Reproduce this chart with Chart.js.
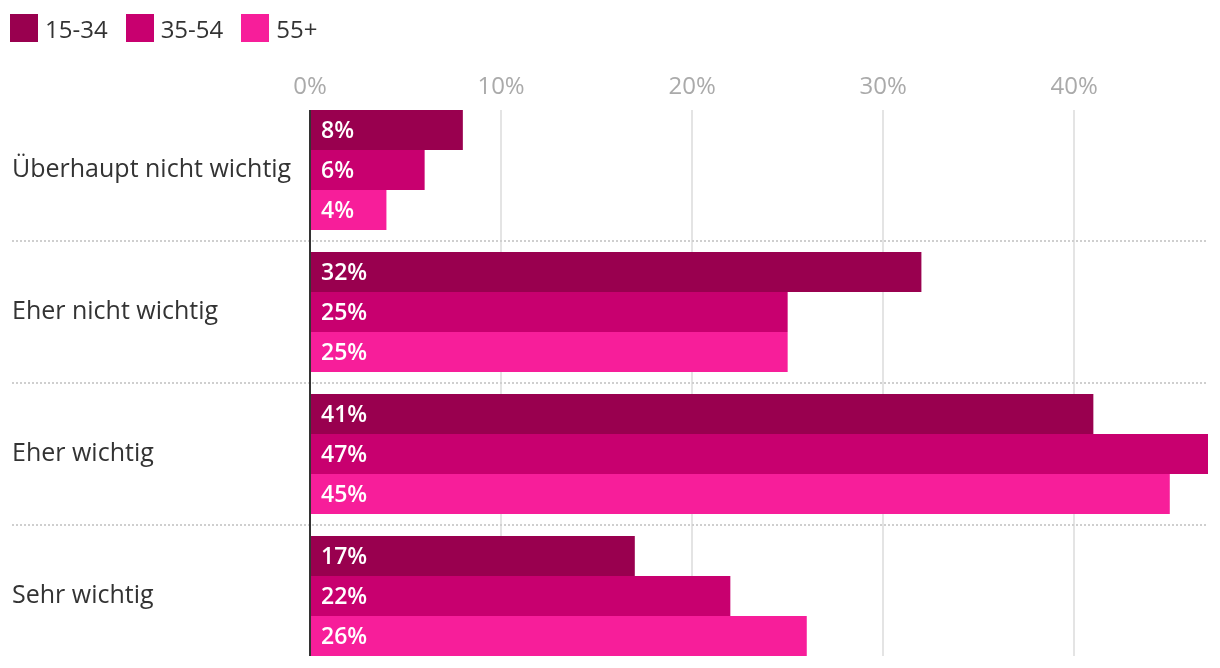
<!DOCTYPE html>
<html>
<head>
<meta charset="utf-8">
<script src="https://cdn.jsdelivr.net/npm/chart.js@4.4.1/dist/chart.umd.min.js"></script>
<style>
  html, body { margin: 0; padding: 0; background: #fff; }
  #wrap { position: relative; width: 1220px; height: 668px; }
  #legend { position: absolute; left: 10px; top: 13px; display: flex; font: 24px 'Open Sans', sans-serif; color: #333; }
  #legend .item { display: flex; align-items: center; height: 30px; margin-right: 18px; }
  #legend .box { width: 28px; height: 28px; margin-right: 7px; }
</style>
</head>
<body>
<div id="wrap">
  <canvas id="myChart" width="1220" height="668"></canvas>
  <div id="legend"></div>
</div>
<script>
const categories = ["Überhaupt nicht wichtig", "Eher nicht wichtig", "Eher wichtig", "Sehr wichtig"];
const ageGroups = ["15-34", "35-54", "55+"];
const values1534 = [8, 32, 41, 17];
const values3554 = [6, 25, 47, 22];
const values55 = [4, 25, 45, 26];
const xTicks = [0, 10, 20, 30, 40];
const barColors = ["#99004f", "#c8006f", "#f71e9a"];

const FONT = "'Open Sans', sans-serif";

// simple html legend
const legendEl = document.getElementById("legend");
ageGroups.forEach((g, i) => {
  const item = document.createElement("div");
  item.className = "item";
  item.innerHTML = '<span class="box" style="background:' + barColors[i] + '"></span><span>' + g + '</span>';
  legendEl.appendChild(item);
});

// grid, separators, zero line and value labels
const decor = {
  id: "decor",
  beforeDatasetsDraw(chart) {
    const ctx = chart.ctx, x = chart.scales.x, y = chart.scales.y;
    const first = chart.getDatasetMeta(0).data[0];
    const lastMeta = chart.getDatasetMeta(chart.data.datasets.length - 1);
    const last = lastMeta.data[lastMeta.data.length - 1];
    const top = first.y - first.height / 2;
    const bottom = last.y + last.height / 2;
    ctx.save();
    ctx.strokeStyle = "#e4e4e4";
    ctx.lineWidth = 2;
    xTicks.forEach(v => {
      if (v === 0) return;
      const px = Math.round(x.getPixelForValue(v));
      ctx.beginPath(); ctx.moveTo(px, top); ctx.lineTo(px, bottom); ctx.stroke();
    });
    ctx.strokeStyle = "#cfcfcf";
    ctx.setLineDash([2, 2]);
    for (let i = 1; i < categories.length; i++) {
      const py = Math.round((y.getPixelForValue(i - 1) + y.getPixelForValue(i)) / 2);
      ctx.beginPath(); ctx.moveTo(12, py); ctx.lineTo(chart.chartArea.right, py); ctx.stroke();
    }
    ctx.restore();
  },
  afterDatasetsDraw(chart) {
    const ctx = chart.ctx, x = chart.scales.x;
    const first = chart.getDatasetMeta(0).data[0];
    const lastMeta = chart.getDatasetMeta(chart.data.datasets.length - 1);
    const last = lastMeta.data[lastMeta.data.length - 1];
    const top = first.y - first.height / 2;
    const bottom = last.y + last.height / 2;
    ctx.save();
    ctx.fillStyle = "#fff";
    ctx.font = "600 23px " + FONT;
    ctx.textAlign = "left";
    ctx.textBaseline = "middle";
    chart.data.datasets.forEach((ds, di) => {
      chart.getDatasetMeta(di).data.forEach((bar, i) => {
        ctx.fillText(ds.data[i] + "%", bar.base + 11, bar.y + 1);
      });
    });
    const zx = x.getPixelForValue(0);
    ctx.strokeStyle = "#333";
    ctx.lineWidth = 2;
    ctx.beginPath(); ctx.moveTo(zx, top); ctx.lineTo(zx, bottom); ctx.stroke();
    ctx.restore();
  }
};

new Chart("myChart", {
  type: "bar",
  data: {
    labels: categories,
    datasets: [
      { label: ageGroups[0], data: values1534, backgroundColor: barColors[0] },
      { label: ageGroups[1], data: values3554, backgroundColor: barColors[1] },
      { label: ageGroups[2], data: values55, backgroundColor: barColors[2] }
    ]
  },
  options: {
    indexAxis: "y",
    responsive: false,
    animation: false,
    devicePixelRatio: 1,
    categoryPercentage: 120 / 142,
    barPercentage: 1,
    layout: { padding: { left: 12, right: 12, top: 0, bottom: 1 } },
    plugins: {
      legend: { display: false },
      tooltip: { enabled: false }
    },
    scales: {
      x: {
        position: "top",
        min: 0,
        max: 47,
        afterBuildTicks: s => { s.ticks = xTicks.map(v => ({ value: v })); },
        afterFit: s => { s.height = 99; },
        grid: { display: false, drawTicks: false },
        border: { display: false },
        ticks: {
          color: "#aaa",
          padding: -3,
          font: { family: FONT, size: 24 },
          callback: v => v + "%"
        }
      },
      y: {
        afterFit: s => { s.width = 298; s.paddingTop = 0; s.paddingBottom = 0; },
        grid: { display: false, drawTicks: false },
        border: { display: false },
        ticks: {
          crossAlign: "far",
          color: "#333",
          padding: 0,
          font: { family: FONT, size: 25 }
        }
      }
    }
  },
  plugins: [decor]
});
</script>
</body>
</html>
